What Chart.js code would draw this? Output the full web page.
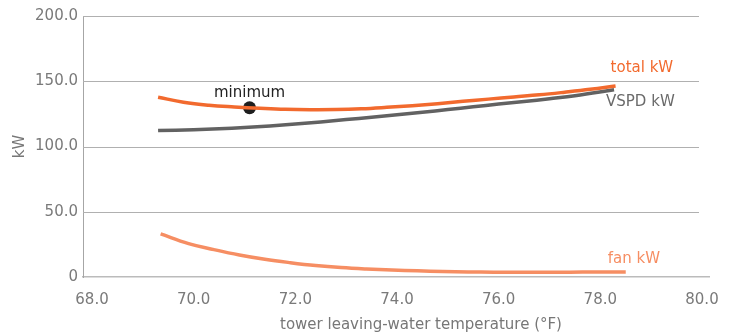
<!DOCTYPE html>
<html>
<head>
<meta charset="utf-8">
<script src="https://cdn.jsdelivr.net/npm/chart.js@4/dist/chart.umd.min.js"></script>
<style>
  html, body { margin: 0; padding: 0; background: #fff; }
  #wrap { width: 733px; height: 333px; }
</style>
</head>
<body>
<div id="wrap"><canvas id="c" width="733" height="333"></canvas></div>
<script>
// Tower leaving-water temperature (°F) against power (kW)
const totalTemp = [69.3, 69.8, 70.3, 70.8, 71.3, 71.8, 72.3, 72.8, 73.3, 73.8, 74.3, 74.8, 75.3, 75.8, 76.3, 76.8, 77.3, 77.8, 78.3];
const totalKW   = [137.8, 133.9, 131.6, 130.3, 129.3, 128.5, 128.2, 128.3, 128.9, 130.0, 131.3, 132.8, 134.6, 136.3, 138.0, 139.6, 141.6, 143.8, 146.4];

const vspdTemp = [69.3, 70.0, 70.5, 71.0, 71.5, 72.0, 72.5, 73.0, 73.5, 74.0, 74.5, 75.0, 75.5, 76.0, 76.5, 77.0, 77.5, 78.27];
const vspdKW   = [112.2, 112.9, 113.6, 114.6, 115.8, 117.2, 118.8, 120.6, 122.5, 124.4, 126.3, 128.3, 130.4, 132.5, 134.4, 136.6, 138.9, 143.5];

const fanTemp = [69.35, 69.9, 70.4, 70.9, 71.4, 71.9, 72.4, 72.9, 73.4, 73.9, 74.4, 74.9, 75.4, 75.9, 76.4, 76.9, 77.4, 77.9, 78.5];
const fanKW   = [33.0, 25.6, 21.0, 16.9, 13.6, 11.0, 8.8, 7.2, 6.1, 5.3, 4.7, 4.2, 3.9, 3.7, 3.6, 3.6, 3.7, 3.8, 3.8];

const minimumTemp = [71.1];
const minimumKW   = [129.7];

const xTicks = [68, 70, 72, 74, 76, 78, 80];
const yTicks = [0, 50, 100, 150, 200];

const seriesNames = ['total kW', 'VSPD kW', 'fan kW'];
const minimumText = 'minimum';
const xTitle = 'tower leaving-water temperature (°F)';
const yTitle = 'kW';

const FONT = '"DejaVu Sans", Verdana, sans-serif';
const ORANGE = '#f26a2e';
const GREY = '#626262';
const LIGHT = '#f68e63';

Chart.defaults.font.family = FONT;
Chart.defaults.font.size = 15;
Chart.defaults.color = '#777';

const pts = (xs, ys) => xs.map((x, i) => ({ x: x, y: ys[i] }));

// horizontal guide lines, stopping a little short of the axis end
const guideLines = {
  id: 'guideLines',
  beforeDatasetsDraw(chart) {
    const { ctx, chartArea, scales } = chart;
    ctx.save();
    ctx.strokeStyle = '#b0b0b0';
    ctx.lineWidth = 1;
    yTicks.forEach(v => {
      if (v === 0) return;
      const y = Math.round(scales.y.getPixelForValue(v)) + 0.5;
      ctx.beginPath();
      ctx.moveTo(chartArea.left, y);
      ctx.lineTo(chartArea.right - 10, y);
      ctx.stroke();
    });
    ctx.restore();
  }
};

// series names beside the line ends, the minimum marker caption and the x title
const annotations = {
  id: 'annotations',
  afterDraw(chart) {
    const { ctx, chartArea } = chart;
    ctx.save();
    ctx.font = '15px ' + FONT;
    ctx.textBaseline = 'middle';
    const place = [
      { ds: 0, dx: -5, dy: -18, color: ORANGE },
      { ds: 1, dx: -8, dy: 12, color: '#6a6a6a' },
      { ds: 2, dx: -18, dy: -13, color: LIGHT }
    ];
    place.forEach(p => {
      const meta = chart.getDatasetMeta(p.ds);
      const last = meta.data[meta.data.length - 1];
      ctx.fillStyle = p.color;
      ctx.textAlign = 'left';
      ctx.fillText(seriesNames[p.ds], last.x + p.dx, last.y + p.dy);
    });
    const dot = chart.getDatasetMeta(3).data[0];
    ctx.fillStyle = '#222';
    ctx.textAlign = 'center';
    ctx.fillText(minimumText, dot.x, dot.y - 15);

    ctx.fillStyle = '#777';
    ctx.textAlign = 'center';
    ctx.fillText(xTitle, chartArea.left + 338, chartArea.bottom + 48);
    ctx.restore();
  }
};

const lineStyle = { showLine: true, borderWidth: 3.5, pointRadius: 0, tension: 0.4 };

new Chart(document.getElementById('c'), {
  type: 'scatter',
  data: {
    datasets: [
      Object.assign({ label: seriesNames[0], data: pts(totalTemp, totalKW), borderColor: ORANGE }, lineStyle),
      Object.assign({ label: seriesNames[1], data: pts(vspdTemp, vspdKW), borderColor: GREY }, lineStyle),
      Object.assign({ label: seriesNames[2], data: pts(fanTemp, fanKW), borderColor: LIGHT }, lineStyle),
      { label: minimumText, data: pts(minimumTemp, minimumKW), showLine: false, pointRadius: 6.5, pointBackgroundColor: '#1e1e1e', pointBorderWidth: 0 }
    ]
  },
  options: {
    responsive: false,
    animation: false,
    events: [],
    layout: { padding: { left: 0, right: 24, top: 16, bottom: 0 } },
    plugins: { legend: { display: false }, tooltip: { enabled: false } },
    scales: {
      x: {
        type: 'linear',
        min: 67.823,
        max: 80.138,
        afterBuildTicks(scale) { scale.ticks = xTicks.map(v => ({ value: v })); },
        afterFit(scale) { scale.height = 56; },
        grid: { display: false, drawTicks: false },
        border: { display: true, color: '#bbb', width: 1.5 },
        ticks: {
          autoSkip: false, maxRotation: 0, padding: 14, color: '#7a7a7a',
          callback: v => v.toFixed(1)
        }
      },
      y: {
        min: 0,
        max: 200,
        afterBuildTicks(scale) { scale.ticks = yTicks.map(v => ({ value: v })); },
        afterFit(scale) { scale.width = 83; },
        grid: { display: false, drawTicks: false },
        border: { display: true, color: '#a6a6a6', width: 1 },
        ticks: {
          padding: 5, color: '#7a7a7a',
          callback: v => (v === 0 ? '0' : v.toFixed(1))
        },
        title: { display: true, text: yTitle, color: '#777', padding: { top: 11, bottom: 0 } }
      }
    }
  },
  plugins: [guideLines, annotations]
});
</script>
</body>
</html>
